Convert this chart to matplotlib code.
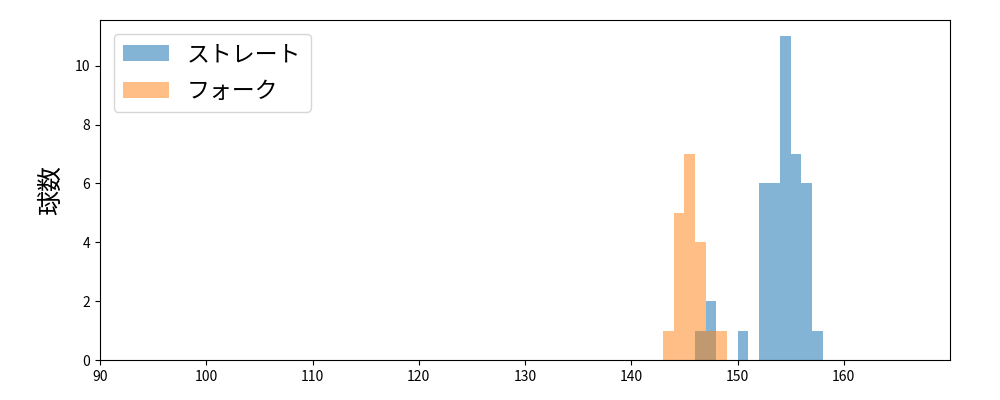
import matplotlib
matplotlib.use("Agg")
import matplotlib.pyplot as plt
import numpy as np

plt.rcParams['font.family'] = ['Noto Sans CJK JP', 'DejaVu Sans']

bin_edges = list(range(90, 171))
straight_centers = [146.5, 147.5, 150.5, 152.5, 153.5, 154.5, 155.5, 156.5, 157.5]
straight_counts = [1, 2, 1, 6, 6, 11, 7, 6, 1]
fork_centers = [143.5, 144.5, 145.5, 146.5, 147.5, 148.5]
fork_counts = [1, 5, 7, 4, 1, 1]

straight = np.repeat(straight_centers, straight_counts)
fork = np.repeat(fork_centers, fork_counts)

fig = plt.figure(figsize=(10, 4), dpi=100)
ax = fig.add_axes([0.1, 0.1, 0.85, 0.85])
ax.hist(straight, bins=bin_edges, alpha=0.55, color='#1f77b4', label='ストレート')
ax.hist(fork, bins=bin_edges, alpha=0.5, color='#ff7f0e', label='フォーク')
ax.set_xlim(90, 170)
ax.set_ylim(0, 11.55)
ax.set_xticks(range(90, 161, 10))
ax.set_yticks(range(0, 11, 2))
ax.set_ylabel('球数', fontsize=18, labelpad=8)
ax.legend(loc='upper left', fontsize=16.5, labelspacing=0.6, borderaxespad=0.6)
fig.savefig('out.png')
